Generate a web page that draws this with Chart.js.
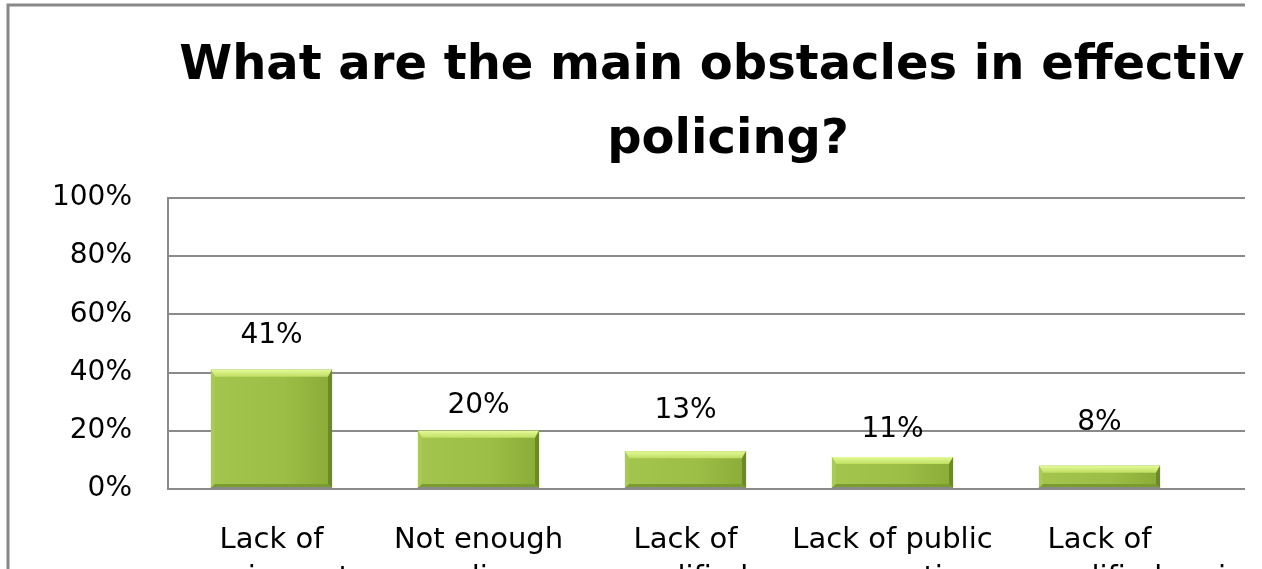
<!DOCTYPE html>
<html>
<head>
<meta charset="utf-8">
<title>Obstacles in effective policing</title>
<script src="https://cdn.jsdelivr.net/npm/chart.js@4.4.0/dist/chart.umd.min.js"></script>
<style>
  html, body { margin: 0; background: #fff; }
  #wrap { width: 1245px; height: 569px; overflow: hidden; }
  #chart { display: block; }
</style>
</head>
<body>
<div id="wrap"><canvas id="chart" width="1456" height="640"></canvas></div>
<script>
const titleLines = ['What are the main obstacles in effective', 'policing?'];
const categories = [
  ['Lack of', 'equipment'],
  ['Not enough', 'police'],
  ['Lack of', 'qualified'],
  ['Lack of public', 'cooperation'],
  ['Lack of', 'qualified'],
  ['Political', 'interference']
];
const shares = [41, 20, 13, 11, 8, null];
const yTicks = [0, 20, 40, 60, 80, 100];

const FONT = 'DejaVu Sans';
const GRID = '#8a8a8a';

function poly(ctx, pts, fill) {
  ctx.beginPath();
  ctx.moveTo(pts[0][0], pts[0][1]);
  for (let i = 1; i < pts.length; i++) ctx.lineTo(pts[i][0], pts[i][1]);
  ctx.closePath();
  ctx.fillStyle = fill;
  ctx.fill();
}

// grey frame round the whole chart
const framePlugin = {
  id: 'frame',
  beforeDraw(chart) {
    const ctx = chart.ctx;
    ctx.save();
    ctx.strokeStyle = '#888';
    ctx.lineWidth = 3;
    ctx.strokeRect(8, 5, chart.width - 16, chart.height + 20);
    ctx.restore();
  }
};

// bevelled look of the bars
const bevelPlugin = {
  id: 'bevel',
  afterDatasetsDraw(chart) {
    const ctx = chart.ctx;
    chart.getDatasetMeta(0).data.forEach((bar, i) => {
      if (shares[i] == null) return;
      const { x, y, base, width } = bar.getProps(['x', 'y', 'base', 'width'], true);
      const l = x - width / 2, r = x + width / 2, t = y, b = base;
      const h = b - t;
      const top = Math.min(7, h / 3), side = Math.min(4, h / 4);
      ctx.save();
      const body = ctx.createLinearGradient(l, 0, r, 0);
      body.addColorStop(0, '#a3c54d');
      body.addColorStop(0.6, '#9cbe46');
      body.addColorStop(1, '#8aac38');
      ctx.fillStyle = body;
      ctx.fillRect(l, t, width, h);
      const hi = ctx.createLinearGradient(0, t, 0, t + top);
      hi.addColorStop(0, '#e4fa98');
      hi.addColorStop(1, '#c0de62');
      poly(ctx, [[l, t], [r, t], [r - side, t + top], [l + side, t + top]], hi);
      poly(ctx, [[l, t], [l + side, t + top], [l + side, b - side], [l, b]], '#a9ca55');
      poly(ctx, [[r, t], [r, b], [r - side, b - side], [r - side, t + top]], '#6a8a26');
      poly(ctx, [[l, b], [r, b], [r - side, b - side], [l + side, b - side]], '#7a9b2f');
      ctx.restore();
      // base line runs over the foot of the bar
      ctx.save();
      ctx.strokeStyle = GRID;
      ctx.lineWidth = 2;
      ctx.beginPath();
      ctx.moveTo(l, b);
      ctx.lineTo(r, b);
      ctx.stroke();
      ctx.restore();
    });
  }
};

// value labels above the bars; lift = distance from bar top to text centre
const valueLabels = {
  id: 'valueLabels',
  afterDatasetsDraw(chart, args, opts) {
    const ctx = chart.ctx;
    ctx.save();
    ctx.font = `28px "${FONT}"`;
    ctx.fillStyle = '#000';
    ctx.textAlign = 'center';
    ctx.textBaseline = 'middle';
    chart.getDatasetMeta(0).data.forEach((bar, i) => {
      if (shares[i] == null) return;
      ctx.fillText(shares[i] + '%', bar.x, bar.y - opts.lift[i]);
    });
    ctx.restore();
  }
};

new Chart(document.getElementById('chart'), {
  type: 'bar',
  data: {
    labels: categories,
    datasets: [{
      data: shares,
      backgroundColor: '#9cbe46',
      borderWidth: 0,
      barPercentage: 0.585,
      categoryPercentage: 1
    }]
  },
  options: {
    responsive: false,
    animation: false,
    layout: { padding: { left: 8, right: 8, top: 0, bottom: 0 } },
    plugins: {
      legend: { display: false },
      tooltip: { enabled: false },
      title: {
        display: true,
        text: titleLines,
        color: '#000',
        font: { family: FONT, size: 48, weight: 'bold', lineHeight: 1.53 },
        padding: { top: 30, bottom: 21 }
      },
      valueLabels: { lift: [34, 25, 40, 27, 43] }
    },
    scales: {
      x: {
        grid: { display: false },
        border: { display: false },
        ticks: {
          color: '#000',
          font: { family: FONT, size: 29, lineHeight: 1.32 },
          padding: 24,
          maxRotation: 0,
          autoSkip: false
        },
        afterFit: s => { s.height = 151; }
      },
      y: {
        min: 0,
        max: 100,
        afterBuildTicks: s => { s.ticks = yTicks.map(v => ({ value: v })); },
        grid: { color: GRID, lineWidth: 2, drawTicks: false },
        border: { color: GRID, width: 2 },
        ticks: {
          color: '#000',
          font: { family: FONT, size: 28 },
          padding: 36,
          callback: v => v + '%'
        },
        afterFit: s => { s.width = 160; }
      },
      // empty strip between the plot and the right edge of the frame
      right: {
        position: 'right',
        grid: { display: false },
        border: { display: false },
        ticks: { display: false },
        afterFit: s => { s.width = 38; }
      }
    }
  },
  plugins: [framePlugin, bevelPlugin, valueLabels]
});
</script>
</body>
</html>
